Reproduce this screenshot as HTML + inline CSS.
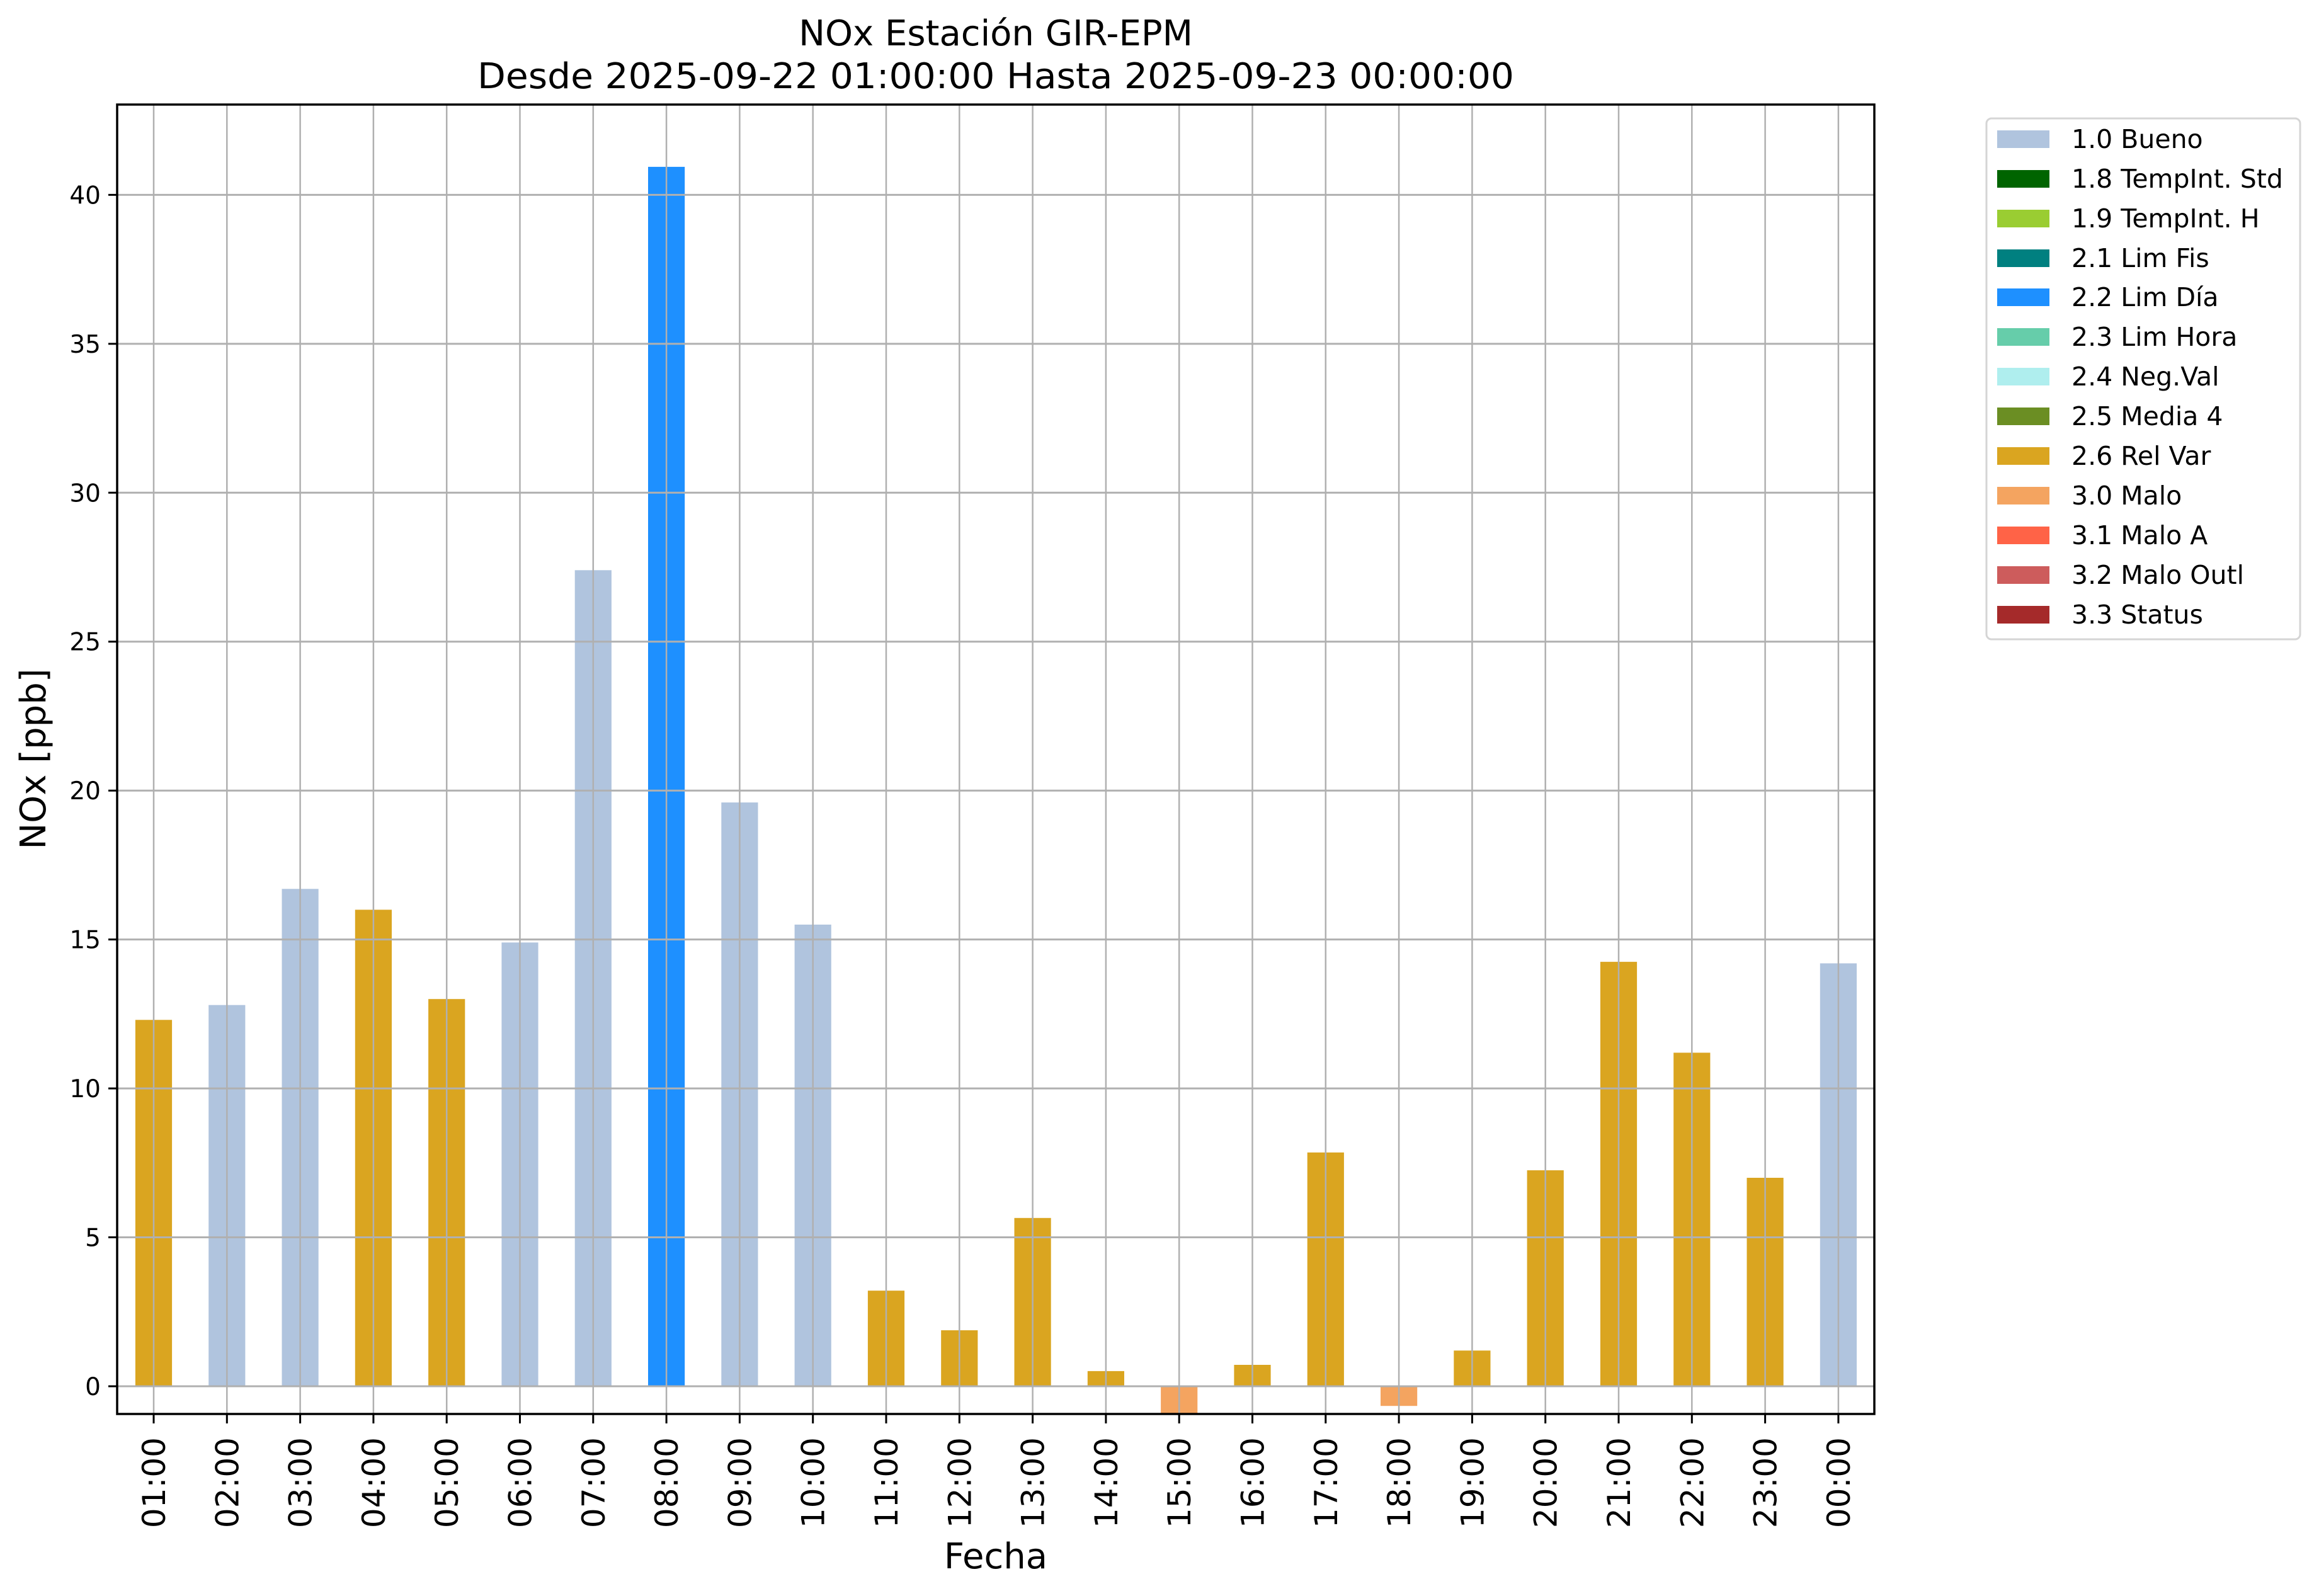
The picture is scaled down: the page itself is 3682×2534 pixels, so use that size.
<!DOCTYPE html>
<html><head><meta charset="utf-8"><style>html,body{margin:0;padding:0;background:#fff}svg{display:block}</style></head>
<body>
<svg xmlns="http://www.w3.org/2000/svg" width="3682" height="2534" viewBox="0 0 3682 2534" font-family="'DejaVu Sans','Liberation Sans',sans-serif">
<rect width="3682" height="2534" fill="#fff"/>
<g>
<rect x="214.9" y="1619.3" width="58.2" height="581.7" fill="#daa520"/>
<rect x="331.2" y="1595.7" width="58.2" height="605.3" fill="#b0c4de"/>
<rect x="447.5" y="1411.3" width="58.2" height="789.7" fill="#b0c4de"/>
<rect x="563.8" y="1444.4" width="58.2" height="756.6" fill="#daa520"/>
<rect x="680.1" y="1586.2" width="58.2" height="614.8" fill="#daa520"/>
<rect x="796.4" y="1496.4" width="58.2" height="704.6" fill="#b0c4de"/>
<rect x="912.7" y="905.3" width="58.2" height="1295.7" fill="#b0c4de"/>
<rect x="1029.0" y="264.9" width="58.2" height="1936.1" fill="#1e90ff"/>
<rect x="1145.3" y="1274.1" width="58.2" height="926.9" fill="#b0c4de"/>
<rect x="1261.6" y="1468.0" width="58.2" height="733.0" fill="#b0c4de"/>
<rect x="1377.9" y="2049.2" width="58.2" height="151.8" fill="#daa520"/>
<rect x="1494.2" y="2112.1" width="58.2" height="88.9" fill="#daa520"/>
<rect x="1610.5" y="1933.8" width="58.2" height="267.2" fill="#daa520"/>
<rect x="1726.8" y="2176.9" width="58.2" height="24.1" fill="#daa520"/>
<rect x="1843.1" y="2201" width="58.2" height="44" fill="#f4a460"/>
<rect x="1959.4" y="2167.0" width="58.2" height="34.0" fill="#daa520"/>
<rect x="2075.7" y="1829.8" width="58.2" height="371.2" fill="#daa520"/>
<rect x="2192.0" y="2201" width="58.2" height="31.2" fill="#f4a460"/>
<rect x="2308.3" y="2144.3" width="58.2" height="56.7" fill="#daa520"/>
<rect x="2424.6" y="1858.1" width="58.2" height="342.9" fill="#daa520"/>
<rect x="2540.9" y="1527.1" width="58.2" height="673.9" fill="#daa520"/>
<rect x="2657.2" y="1671.4" width="58.2" height="529.6" fill="#daa520"/>
<rect x="2773.5" y="1870.0" width="58.2" height="331.0" fill="#daa520"/>
<rect x="2889.8" y="1529.5" width="58.2" height="671.5" fill="#b0c4de"/>
</g>
<g stroke="#b0b0b0" stroke-width="2.5">
<path d="M244 166V2245M360.3 166V2245M476.6 166V2245M592.9 166V2245M709.2 166V2245M825.5 166V2245M941.8 166V2245M1058.1 166V2245M1174.4 166V2245M1290.7 166V2245M1407 166V2245M1523.3 166V2245M1639.6 166V2245M1755.9 166V2245M1872.2 166V2245M1988.5 166V2245M2104.8 166V2245M2221.1 166V2245M2337.4 166V2245M2453.7 166V2245M2570 166V2245M2686.3 166V2245M2802.6 166V2245M2918.9 166V2245"/>
<path stroke-width="3" d="M186 2201H2976M186 1964.55H2976M186 1728.1H2976M186 1491.65H2976M186 1255.2H2976M186 1018.75H2976M186 782.3H2976M186 545.85H2976M186 309.4H2976"/>
</g>
<g stroke="#000" stroke-width="3">
<path d="M172 2201H186M172 1964.55H186M172 1728.1H186M172 1491.65H186M172 1255.2H186M172 1018.75H186M172 782.3H186M172 545.85H186M172 309.4H186"/>
<path d="M244 2245V2260M360.3 2245V2260M476.6 2245V2260M592.9 2245V2260M709.2 2245V2260M825.5 2245V2260M941.8 2245V2260M1058.1 2245V2260M1174.4 2245V2260M1290.7 2245V2260M1407 2245V2260M1523.3 2245V2260M1639.6 2245V2260M1755.9 2245V2260M1872.2 2245V2260M1988.5 2245V2260M2104.8 2245V2260M2221.1 2245V2260M2337.4 2245V2260M2453.7 2245V2260M2570 2245V2260M2686.3 2245V2260M2802.6 2245V2260M2918.9 2245V2260"/>
</g>
<g font-size="39" text-anchor="end">
<text x="160" y="2215">0</text>
<text x="160" y="1978.5">5</text>
<text x="160" y="1742">10</text>
<text x="160" y="1505.6">15</text>
<text x="160" y="1269.2">20</text>
<text x="160" y="1032.7">25</text>
<text x="160" y="796.3">30</text>
<text x="160" y="559.8">35</text>
<text x="160" y="323.4">40</text>
</g>
<g font-size="50" text-anchor="end">
<text transform="translate(262,2282) rotate(-90)">01:00</text>
<text transform="translate(378.3,2282) rotate(-90)">02:00</text>
<text transform="translate(494.6,2282) rotate(-90)">03:00</text>
<text transform="translate(610.9,2282) rotate(-90)">04:00</text>
<text transform="translate(727.2,2282) rotate(-90)">05:00</text>
<text transform="translate(843.5,2282) rotate(-90)">06:00</text>
<text transform="translate(959.8,2282) rotate(-90)">07:00</text>
<text transform="translate(1076.1,2282) rotate(-90)">08:00</text>
<text transform="translate(1192.4,2282) rotate(-90)">09:00</text>
<text transform="translate(1308.7,2282) rotate(-90)">10:00</text>
<text transform="translate(1425,2282) rotate(-90)">11:00</text>
<text transform="translate(1541.3,2282) rotate(-90)">12:00</text>
<text transform="translate(1657.6,2282) rotate(-90)">13:00</text>
<text transform="translate(1773.9,2282) rotate(-90)">14:00</text>
<text transform="translate(1890.2,2282) rotate(-90)">15:00</text>
<text transform="translate(2006.5,2282) rotate(-90)">16:00</text>
<text transform="translate(2122.8,2282) rotate(-90)">17:00</text>
<text transform="translate(2239.1,2282) rotate(-90)">18:00</text>
<text transform="translate(2355.4,2282) rotate(-90)">19:00</text>
<text transform="translate(2471.7,2282) rotate(-90)">20:00</text>
<text transform="translate(2588,2282) rotate(-90)">21:00</text>
<text transform="translate(2704.3,2282) rotate(-90)">22:00</text>
<text transform="translate(2820.6,2282) rotate(-90)">23:00</text>
<text transform="translate(2936.9,2282) rotate(-90)">00:00</text>
</g>
<rect x="186" y="166" width="2790" height="2079" fill="none" stroke="#000" stroke-width="3.5"/>
<text x="1581" y="72" font-size="56" text-anchor="middle">NOx Estación GIR-EPM</text>
<text x="1581" y="140" font-size="56" text-anchor="middle" textLength="1646" lengthAdjust="spacingAndGlyphs">Desde 2025-09-22 01:00:00 Hasta 2025-09-23 00:00:00</text>
<text transform="translate(72,1205) rotate(-90)" font-size="56" text-anchor="middle">NOx [ppb]</text>
<text x="1581" y="2490" font-size="56" text-anchor="middle">Fecha</text>
<rect x="3154" y="188" width="498" height="827" rx="8" fill="#fff" stroke="#d5d5d5" stroke-width="3"/>
<g font-size="41">
<rect x="3171" y="207" width="83" height="28" fill="#b0c4de"/><text x="3289" y="235">1.0 Bueno</text>
<rect x="3171" y="270" width="83" height="28" fill="#006400"/><text x="3289" y="298">1.8 TempInt. Std</text>
<rect x="3171" y="333" width="83" height="28" fill="#9acd32"/><text x="3289" y="361">1.9 TempInt. H</text>
<rect x="3171" y="396" width="83" height="28" fill="#008080"/><text x="3289" y="424">2.1 Lim Fis</text>
<rect x="3171" y="458" width="83" height="28" fill="#1e90ff"/><text x="3289" y="486">2.2 Lim Día</text>
<rect x="3171" y="521" width="83" height="28" fill="#66cdaa"/><text x="3289" y="549">2.3 Lim Hora</text>
<rect x="3171" y="584" width="83" height="28" fill="#afeeee"/><text x="3289" y="612">2.4 Neg.Val</text>
<rect x="3171" y="647" width="83" height="28" fill="#6b8e23"/><text x="3289" y="675">2.5 Media 4</text>
<rect x="3171" y="710" width="83" height="28" fill="#daa520"/><text x="3289" y="738">2.6 Rel Var</text>
<rect x="3171" y="773" width="83" height="28" fill="#f4a460"/><text x="3289" y="801">3.0 Malo</text>
<rect x="3171" y="836" width="83" height="28" fill="#ff6347"/><text x="3289" y="864">3.1 Malo A</text>
<rect x="3171" y="899" width="83" height="28" fill="#cd5c5c"/><text x="3289" y="927">3.2 Malo Outl</text>
<rect x="3171" y="962" width="83" height="28" fill="#a52a2a"/><text x="3289" y="990">3.3 Status</text>
</g>
</svg>
</body></html>
